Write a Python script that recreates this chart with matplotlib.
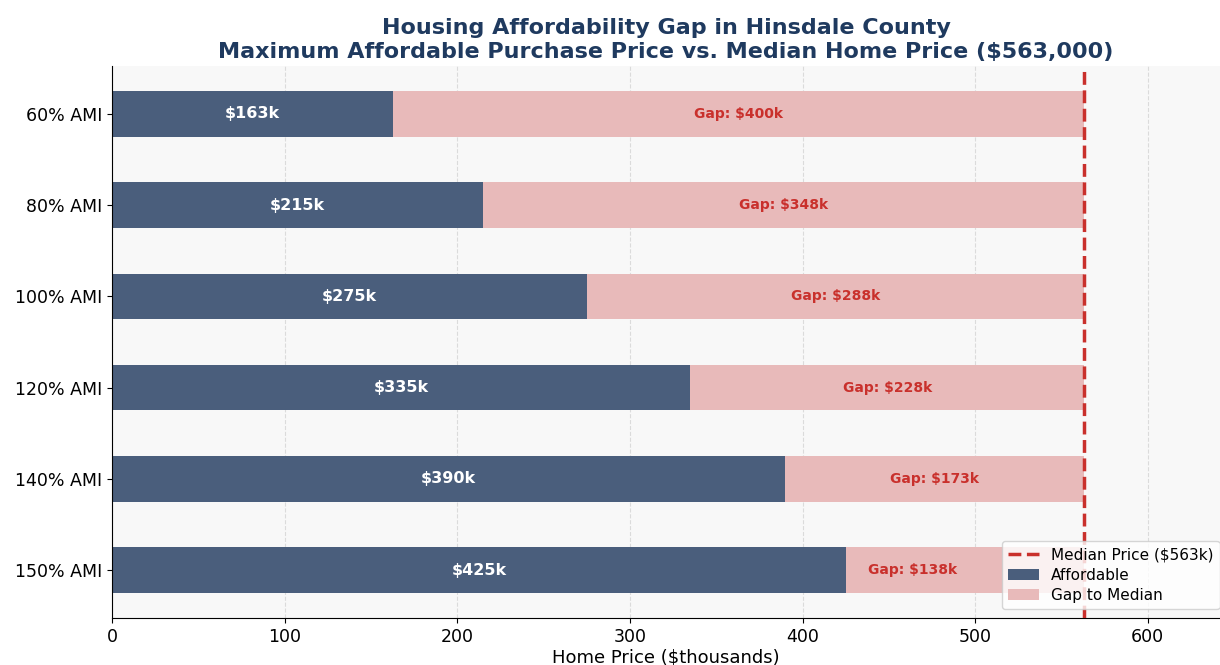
import numpy as np
import matplotlib.pyplot as plt

categories = ['60% AMI', '80% AMI', '100% AMI', '120% AMI', '140% AMI', '150% AMI']
affordable = [163, 215, 275, 335, 390, 425]
median_price = 563
gaps = [median_price - a for a in affordable]

col_aff = '#4a5e7c'
col_gap = '#e8baba'
col_red = '#c9302c'
col_title = '#1f3a5f'

fig = plt.figure(figsize=(12.2, 6.65), dpi=100)
ax = fig.add_axes([112 / 1220, 47 / 665, 1 - 112 / 1220, 552 / 665])
ax.set_facecolor('#f8f8f8')

y = np.arange(len(categories))
ax.barh(y, affordable, height=0.5, color=col_aff, label='Affordable', zorder=2)
ax.barh(y, gaps, left=affordable, height=0.5, color=col_gap, label='Gap to Median', zorder=2)
ax.axvline(median_price, color=col_red, linestyle='--', linewidth=2.5,
           label=f'Median Price (${median_price}k)', zorder=3)

for i in range(len(categories)):
    ax.text(affordable[i] / 2, i, f'${affordable[i]}k', ha='center', va='center',
            color='white', fontweight='bold', fontsize=11.5, zorder=4)
    # last row sits under the legend, so nudge its label left
    frac = 0.28 if i == len(categories) - 1 else 0.5
    ax.text(affordable[i] + gaps[i] * frac, i, f'Gap: ${gaps[i]}k', ha='center', va='center',
            color=col_red, fontweight='bold', fontsize=10, zorder=4)

ax.set_yticks(y)
ax.set_yticklabels(categories, fontsize=12.5)
ax.invert_yaxis()
ax.set_xlim(0, median_price * 1.14)
ax.tick_params(axis='x', labelsize=12.5)
ax.set_xlabel('Home Price ($thousands)', fontsize=13, labelpad=2)
ax.grid(axis='x', linestyle='--', alpha=0.4, zorder=0)
ax.set_axisbelow(True)
ax.spines['top'].set_visible(False)
ax.spines['right'].set_visible(False)

ax.set_title('Housing Affordability Gap in Hinsdale County\n'
             'Maximum Affordable Purchase Price vs. Median Home Price ($563,000)',
             fontsize=16, fontweight='bold', color=col_title, pad=6)

ax.legend(loc='lower left', bbox_to_anchor=((1002 - 112) / 1108, 9 / 552),
          fontsize=11, labelspacing=0.35, borderaxespad=0)

fig.savefig('out.png', dpi=100)
